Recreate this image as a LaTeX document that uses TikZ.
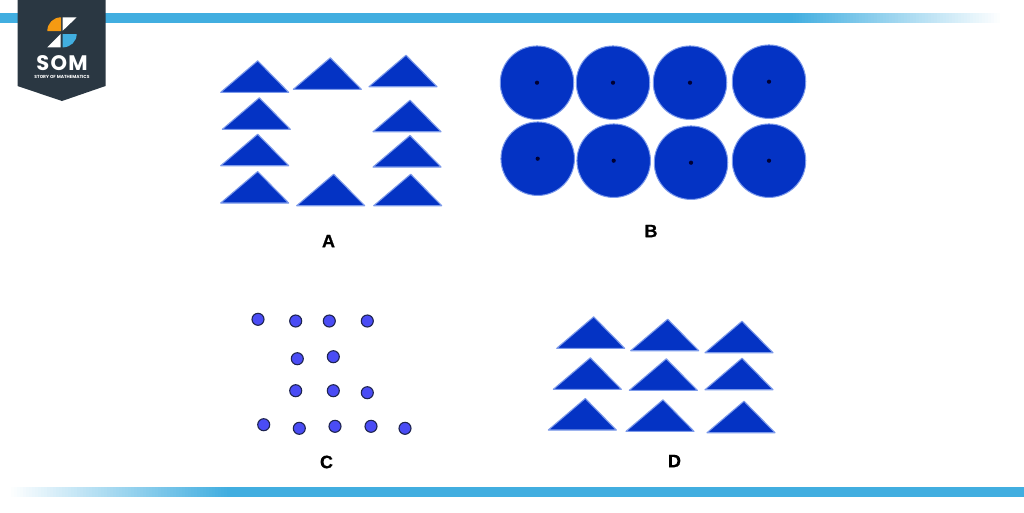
\documentclass[tikz,border=0pt]{standalone}
\usepackage{fontspec}
\setmainfont{Liberation Sans}
\newfontfamily\logofont{Poppins}
\newfontfamily\labelfont[FakeBold=0.6]{Liberation Sans Bold}
\definecolor{barblue}{HTML}{41AEE0}
\definecolor{shapeblue}{HTML}{0433C4}
\definecolor{shapeedge}{HTML}{7C9AEA}
\definecolor{dotblue}{HTML}{4A4CF5}
\definecolor{dotedge}{HTML}{1E2450}
\definecolor{pennant}{HTML}{2A3742}
\definecolor{logoorange}{HTML}{F59A12}
\tikzset{
  x=1pt,y=-1pt,
  tri/.style={fill=shapeblue,draw=shapeedge,line width=1.1pt,line join=round},
  bigdisc/.style={circle,fill=shapeblue,draw=shapeedge,line width=1pt,minimum size=73.5pt,inner sep=0pt,outer sep=0pt},
  centerdot/.style={circle,fill=black!80!blue,inner sep=0pt,minimum size=4.2pt},
  smalldisc/.style={circle,fill=dotblue,draw=dotedge,line width=1.1pt,minimum size=12pt,inner sep=0pt,outer sep=0pt},
  letter/.style={font=\labelfont\fontsize{18}{18}\selectfont,text=black,inner sep=0pt}
}
\newcommand{\tria}[2]{\draw[tri] (#1,#2) -- ++(37,-31.5) -- ++(31,31.5) -- cycle;}
\newcommand{\bigd}[3]{\node[bigdisc] (#1) at (#2,#3) {}; \node[centerdot] (#1c) at (#2,#3) {};}
\begin{document}
\begin{tikzpicture}
\useasboundingbox (0,0) rectangle (1024,512);
\fill[white] (0,0) rectangle (1024,512);
% bars: solid part, then overlapping slices that fade to white
\fill[barblue] (0,13) rectangle (1024,23);
\foreach \i in {0,...,70} {
  \pgfmathsetmacro{\mixv}{100-\i*100/70}
  \pgfmathsetmacro{\xpos}{790+\i*3}
  \fill[barblue!\mixv!white] (\xpos,13) rectangle (1024,23);
}
\fill[barblue] (0,487) rectangle (1024,497);
\foreach \i in {0,...,73} {
  \pgfmathsetmacro{\mixv}{100-\i*100/73}
  \pgfmathsetmacro{\xpos}{230-\i*3}
  \fill[barblue!\mixv!white] (0,487) rectangle (\xpos,497);
}
% logo
\fill[pennant] (17.5,0) -- (105.5,0) -- (105.5,86) -- (62,101) -- (17.5,86) -- cycle;
\fill[logoorange] (61,17.3) -- (61,31) -- (47.3,31) .. controls (47.3,23.4) and (53.4,17.3) .. (61,17.3) -- cycle;
\fill[white] (62.7,17.3) -- (76.7,17.3) -- (62.7,30.7) -- cycle;
\fill[barblue] (62.7,34) -- (76.7,34) .. controls (76.7,41.5) and (70.5,47.4) .. (62.7,47.4) -- cycle;
\fill[white] (60.7,34) -- (60.7,47.4) -- (47.3,47.4) -- cycle;
\node[inner sep=0pt,text=white] (som) at (62,63) {\logofont\bfseries\fontsize{21}{22}\selectfont\addfontfeature{LetterSpace=6}SOM};
\node[inner sep=0pt,text=white] (story) at (62,77.2) {\logofont\fontsize{4.4}{4.4}\selectfont\bfseries STORY OF MATHEMATICS};
% A
\tria{220.7}{92.3}\tria{293.3}{89.3}\tria{369}{86.7}
\tria{222.3}{129.3}\tria{373}{131.7}
\tria{220.7}{165.7}\tria{373}{167}
\tria{220.7}{203}\tria{296.7}{205.7}\tria{373.7}{205.7}
\node[letter] (la) at (328.5,241) {A};
% B
\bigd{b1}{537}{82.7}\bigd{b2}{613}{82.7}\bigd{b3}{690}{82.7}\bigd{b4}{769}{81.7}
\bigd{b5}{537.7}{158.7}\bigd{b6}{613.7}{160.7}\bigd{b7}{691}{162.7}\bigd{b8}{769}{160.7}
\node[letter] (lb) at (651,231) {B};
% C
\foreach \n/\px/\py in {1/258/319.3,2/295.7/321,3/329.3/321,4/367.3/321,5/297.3/358.7,6/333.3/356.7,7/295.7/390.7,8/333.3/390.7,9/367.3/392.7,10/263.7/424.7,11/299.3/428.3,12/335/426.3,13/371/426.3,14/405/428.3}
  \node[smalldisc] (c\n) at (\px,\py) {};
\node[letter] (lc) at (326.5,462) {C};
% D
\tria{556.7}{348.3}\tria{630.7}{350.7}\tria{705}{352.7}
\tria{553.3}{389.3}\tria{629.3}{390.3}\tria{705}{389.7}
\tria{548.3}{430}\tria{626}{431.3}\tria{707}{432.7}
\node[letter] (ld) at (674.5,461) {D};
\end{tikzpicture}
\end{document}
